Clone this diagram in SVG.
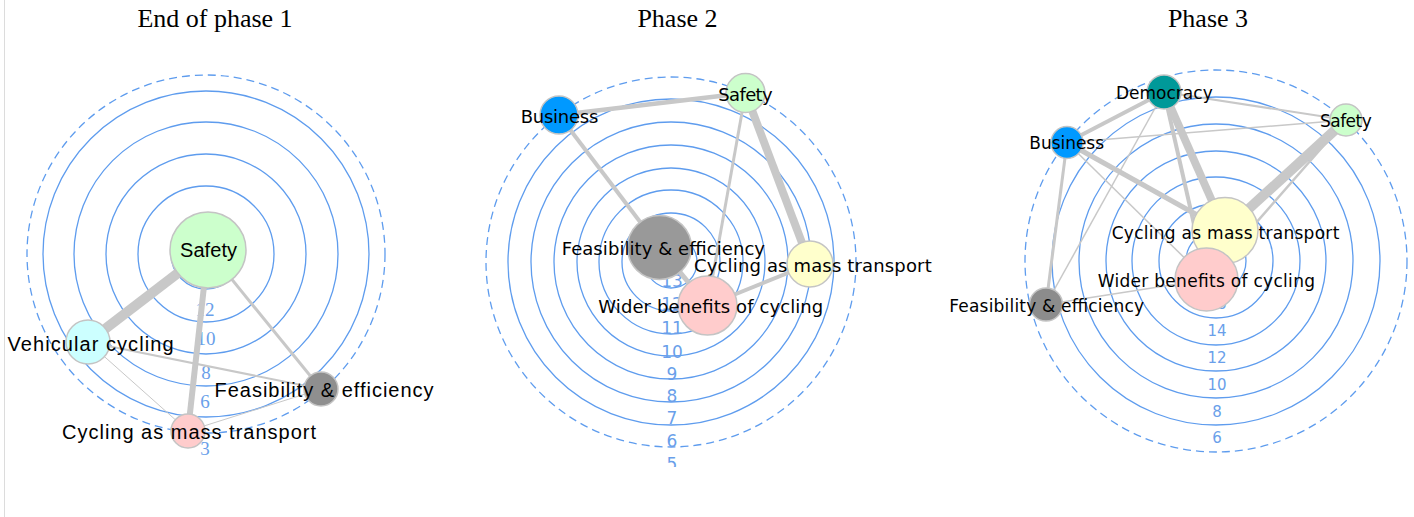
<svg xmlns="http://www.w3.org/2000/svg" width="1414" height="517" viewBox="0 0 1414 517">
<style>
.title{font-family:"Liberation Serif","Times New Roman",serif;font-size:26px;fill:#000;text-anchor:middle}
.ring{fill:none;stroke:#5e9cee;stroke-width:1.3}
.dash{fill:none;stroke:#5e9cee;stroke-width:1.3;stroke-dasharray:8 5}
.num1{font-family:"Liberation Serif",serif;font-size:19px;fill:#6a9fea;text-anchor:middle}
.num2{font-family:"DejaVu Sans",sans-serif;font-size:17px;fill:#6a9fea;text-anchor:middle}
.num3{font-family:"DejaVu Sans",sans-serif;font-size:15px;fill:#6a9fea;text-anchor:middle}
.e{stroke:#c8c8c8;stroke-linecap:butt;fill:none}
.n{stroke:#c4c4c4;stroke-width:1.5}
.l1{font-family:"Liberation Sans",Arial,sans-serif;font-size:20px;fill:#000}
.l2{font-family:"DejaVu Sans",sans-serif;font-size:18px;fill:#000}
.l3{font-family:"DejaVu Sans",sans-serif;font-size:17px;fill:#000}
</style>
<defs>
<clipPath id="clip2"><rect x="470" y="40" width="470" height="427"/></clipPath>
</defs>
<rect width="1414" height="517" fill="#fff"/>
<line x1="4.5" y1="0" x2="4.5" y2="517" stroke="#dcdcdc" stroke-width="1"/>
<text class="title" x="215" y="27">End of phase 1</text>
<text class="title" x="677.5" y="27">Phase 2</text>
<text class="title" x="1208" y="27">Phase 3</text>

<!-- Panel 1 -->
<g id="panel1">
<g id="p1-rings">
<circle class="ring" cx="206" cy="254" r="35"/>
<circle class="ring" cx="206" cy="254" r="68"/>
<circle class="ring" cx="206" cy="254" r="100"/>
<circle class="ring" cx="206" cy="254" r="132"/>
<circle class="ring" cx="206" cy="254" r="163"/>
<circle class="dash" cx="206" cy="254" r="179"/>
<text class="num1" x="205" y="316">12</text>
<text class="num1" x="206" y="345">10</text>
<text class="num1" x="206" y="379">8</text>
<text class="num1" x="205" y="408">6</text>
<text class="num1" x="205" y="455">3</text>
</g>
<g id="p1-connectors">
<line class="e" x1="208" y1="250" x2="88" y2="342" stroke-width="10"/>
<line class="e" x1="208" y1="250" x2="188" y2="431" stroke-width="6"/>
<line class="e" x1="208" y1="250" x2="321" y2="389" stroke-width="3"/>
<line class="e" x1="88" y1="342" x2="321" y2="389" stroke-width="2"/>
<line class="e" x1="88" y1="342" x2="188" y2="431" stroke-width="1"/>
<line class="e" x1="188" y1="431" x2="321" y2="389" stroke-width="1"/>
</g>
<g id="p1-safety"><circle class="n" cx="208" cy="250" r="38" fill="#ccffcc"/><text class="l1" x="180" y="257" textLength="57">Safety</text></g>
<g id="p1-vehicular"><circle class="n" cx="88" cy="342" r="22" fill="#ccffff"/><text class="l1" x="7.5" y="350.5" textLength="166">Vehicular cycling</text></g>
<g id="p1-feasibility"><circle class="n" cx="321" cy="389" r="17" fill="#8f8f8f"/><text class="l1" x="214.5" y="397" textLength="219">Feasibility &amp; efficiency</text></g>
<g id="p1-mass"><circle class="n" cx="188" cy="431" r="17" fill="#ffcccc"/><text class="l1" x="62" y="439" textLength="254">Cycling as mass transport</text></g>
</g>

<!-- Panel 2 -->
<g id="panel2" clip-path="url(#clip2)">
<g id="p2-rings">
<circle class="ring" cx="671" cy="262" r="26"/>
<circle class="ring" cx="671" cy="262" r="49"/>
<circle class="ring" cx="671" cy="262" r="72"/>
<circle class="ring" cx="671" cy="262" r="94"/>
<circle class="ring" cx="671" cy="262" r="117"/>
<circle class="ring" cx="671" cy="262" r="140"/>
<circle class="ring" cx="671" cy="262" r="163"/>
<circle class="dash" cx="671" cy="262" r="185"/>
<text class="num2" x="672" y="287">13</text>
<text class="num2" x="672" y="310">12</text>
<text class="num2" x="672" y="334">11</text>
<text class="num2" x="672" y="358">10</text>
<text class="num2" x="672" y="380">9</text>
<text class="num2" x="672" y="402">8</text>
<text class="num2" x="672" y="424">7</text>
<text class="num2" x="672" y="447">6</text>
<text class="num2" x="672" y="470">5</text>
</g>
<g id="p2-connectors">
<line class="e" x1="559" y1="115" x2="745.5" y2="93" stroke-width="4.5"/>
<line class="e" x1="559" y1="115" x2="659.5" y2="247.5" stroke-width="4"/>
<line class="e" x1="745.5" y1="93" x2="810" y2="264" stroke-width="8"/>
<line class="e" x1="745.5" y1="93" x2="707.5" y2="305.5" stroke-width="3"/>
<line class="e" x1="659.5" y1="247.5" x2="707.5" y2="305.5" stroke-width="5"/>
<line class="e" x1="810" y1="264" x2="707.5" y2="305.5" stroke-width="4"/>
</g>
<g id="p2-business"><circle class="n" cx="559" cy="115" r="19" fill="#0099ff"/><text class="l2" x="520.7" y="122.5" textLength="77.6">Business</text></g>
<g id="p2-safety"><circle class="n" cx="745.5" cy="93" r="19.5" fill="#ccffcc"/><text class="l2" x="718.3" y="100.5" textLength="54.4">Safety</text></g>
<g id="p2-feasibility"><circle class="n" cx="659.5" cy="247.5" r="32" fill="#999999"/><text class="l2" x="561.7" y="255" textLength="203.3">Feasibility &amp; efficiency</text></g>
<g id="p2-mass"><circle class="n" cx="810" cy="264" r="23" fill="#ffffcc"/><text class="l2" x="694" y="271.5" textLength="237.7">Cycling as mass transport</text></g>
<g id="p2-wider"><circle class="n" cx="707.5" cy="305.5" r="29.5" fill="#ffcccc"/><text class="l2" x="598.3" y="313" textLength="225">Wider benefits of cycling</text></g>
</g>

<!-- Panel 3 -->
<g id="panel3">
<g id="p3-rings">
<circle class="ring" cx="1216" cy="261" r="30"/>
<circle class="ring" cx="1216" cy="261" r="57"/>
<circle class="ring" cx="1216" cy="261" r="84"/>
<circle class="ring" cx="1216" cy="261" r="110"/>
<circle class="ring" cx="1216" cy="261" r="137"/>
<circle class="ring" cx="1216" cy="261" r="164"/>
<circle class="dash" cx="1216" cy="261" r="191"/>
<text class="num3" x="1217" y="309">16</text>
<text class="num3" x="1217" y="336">14</text>
<text class="num3" x="1217" y="363">12</text>
<text class="num3" x="1217" y="390">10</text>
<text class="num3" x="1217" y="417">8</text>
<text class="num3" x="1217" y="443">6</text>
</g>
<g id="p3-connectors">
<line class="e" x1="1346" y1="120" x2="1225" y2="230.5" stroke-width="10"/>
<line class="e" x1="1164" y1="92" x2="1225" y2="230.5" stroke-width="8"/>
<line class="e" x1="1164" y1="92" x2="1206.5" y2="279.5" stroke-width="4"/>
<line class="e" x1="1067" y1="142.5" x2="1225" y2="230.5" stroke-width="5"/>
<line class="e" x1="1067" y1="142.5" x2="1164" y2="92" stroke-width="4"/>
<line class="e" x1="1164" y1="92" x2="1346" y2="120" stroke-width="2"/>
<line class="e" x1="1067" y1="142.5" x2="1346" y2="120" stroke-width="1.5"/>
<line class="e" x1="1067" y1="142.5" x2="1206.5" y2="279.5" stroke-width="1.5"/>
<line class="e" x1="1067" y1="142.5" x2="1046" y2="304.5" stroke-width="3"/>
<line class="e" x1="1164" y1="92" x2="1046" y2="304.5" stroke-width="1.5"/>
<line class="e" x1="1346" y1="120" x2="1206.5" y2="279.5" stroke-width="2.5"/>
<line class="e" x1="1046" y1="304.5" x2="1206.5" y2="279.5" stroke-width="1.5"/>
</g>
<g id="p3-democracy"><circle class="n" cx="1164" cy="92" r="17" fill="#009999"/><text class="l3" x="1116" y="99" textLength="96.7">Democracy</text></g>
<g id="p3-safety"><circle class="n" cx="1346" cy="120" r="16" fill="#ccffcc"/><text class="l3" x="1320" y="126.5" textLength="51.7">Safety</text></g>
<g id="p3-business"><circle class="n" cx="1067" cy="142.5" r="16" fill="#0099ff"/><text class="l3" x="1029.3" y="149" textLength="74.7">Business</text></g>
<g id="p3-feasibility"><circle class="n" cx="1046" cy="304.5" r="16.5" fill="#8c8c8c"/><text class="l3" x="949.3" y="311.5" textLength="194.7">Feasibility &amp; efficiency</text></g>
<g id="p3-mass"><circle class="n" cx="1225" cy="230.5" r="33" fill="#ffffcc"/><text class="l3" x="1111.7" y="239" textLength="227.6">Cycling as mass transport</text></g>
<g id="p3-wider"><circle class="n" cx="1206.5" cy="279.5" r="31.5" fill="#ffcccc"/><text class="l3" x="1097.7" y="286.5" textLength="217.3">Wider benefits of cycling</text></g>
</g>
</svg>
